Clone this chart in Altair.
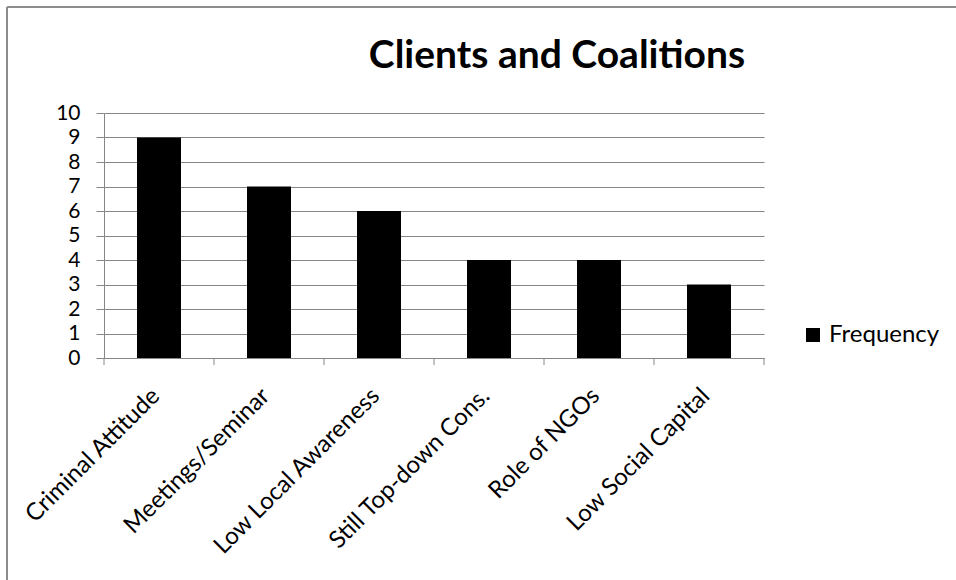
import altair as alt
import pandas as pd

categories = ["Criminal Attitude", "Meetings/Seminar", "Low Local Awareness",
              "Still Top-down Cons.", "Role of NGOs", "Low Social Capital"]
values = [9, 7, 6, 4, 4, 3]
series_name = "Frequency"
y_ticks = list(range(0, 11))
chart_title = "Clients and Coalitions"

df = pd.DataFrame({"category": categories, "value": values, "series": [series_name] * len(values)})

FONT = "Lato"
GRID = "#868686"
W, H = 660, 245

xscale = alt.Scale(domain=categories, paddingInner=0.6, paddingOuter=0.3)

bars = alt.Chart(df).mark_bar(color="black").encode(
    x=alt.X("category:N", sort=categories, scale=xscale,
            axis=alt.Axis(title=None, labelAngle=-45, labelAlign="right", labelBaseline="middle",
                          labelPadding=34, labelOffset=-3, ticks=False, domain=True, domainColor=GRID,
                          labelLimit=0, labelOverlap=False,
                          labelFont=FONT, labelFontSize=24, labelColor="black", grid=False)),
    y=alt.Y("value:Q", scale=alt.Scale(domain=[0, 10]),
            axis=alt.Axis(title=None, values=y_ticks, grid=True, gridColor=GRID, gridOpacity=1,
                          tickColor=GRID, tickSize=8, domainColor=GRID, labelPadding=16,
                          labelFont=FONT, labelFontSize=21, labelColor="black")),
    color=alt.Color("series:N", scale=alt.Scale(range=["black"]),
                    legend=alt.Legend(title=None, orient="none", legendX=697, legendY=210,
                                      symbolType="square", symbolSize=196, symbolStrokeWidth=0,
                                      labelFont=FONT, labelFontSize=24, labelColor="black",
                                      padding=0, labelOffset=4)),
)

ticks_df = pd.DataFrame({"category": categories})
tick_scale = alt.Scale(domain=categories, paddingInner=0, paddingOuter=0)
xticks = alt.Chart(ticks_df).mark_rule(color=GRID, strokeWidth=1).encode(
    x=alt.X("category:N", sort=categories, scale=tick_scale, bandPosition=0, axis=None),
    y=alt.value(H), y2=alt.value(H + 7),
)
last_tick = alt.Chart(ticks_df.head(1)).mark_rule(color=GRID, strokeWidth=1).encode(
    x=alt.value(W), y=alt.value(H), y2=alt.value(H + 7),
)
title_text = alt.Chart(pd.DataFrame({"t": [chart_title]})).mark_text(
    font=FONT, fontSize=39, fontWeight="bold", color="black", align="center", baseline="alphabetic"
).encode(text="t:N", x=alt.value(453), y=alt.value(-45))

border_left = alt.Chart(ticks_df.head(1)).mark_rule(color="#8c8c8c", strokeWidth=2).encode(
    x=alt.value(-97), y=alt.value(-106), y2=alt.value(600),
)
border_top = alt.Chart(ticks_df.head(1)).mark_rule(color="#8c8c8c", strokeWidth=2).encode(
    x=alt.value(-97), x2=alt.value(900), y=alt.value(-106),
)

chart = alt.layer(bars, xticks, last_tick, title_text, border_left, border_top).resolve_scale(
    x="independent"
).properties(
    width=W, height=H,
    padding={"left": 104, "top": 113, "right": 956 - 104 - W, "bottom": 580 - 113 - H},
    autosize=alt.AutoSizeParams(type="none"),
).configure_view(stroke=None)

chart.save("out.html", embed_options={"renderer": "svg", "actions": False})
